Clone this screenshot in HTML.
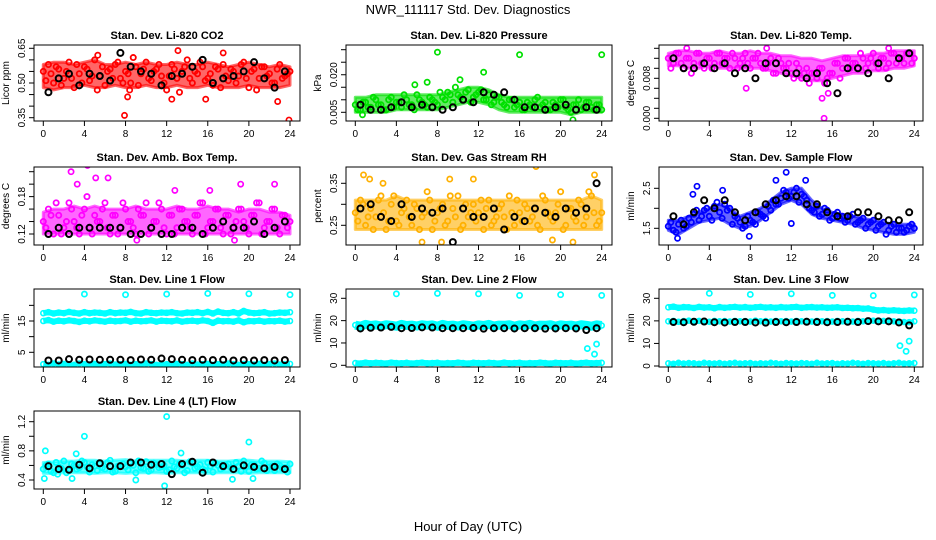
<!DOCTYPE html>
<html><head><meta charset="utf-8"><style>
html,body{margin:0;padding:0;background:#fff}
svg{display:block;font-family:"Liberation Sans",Arial,sans-serif}
</style></head><body>
<svg id="c" width="936" height="540" viewBox="0 0 936 540">
<text x="468" y="14" text-anchor="middle" font-size="13">NWR_111117  Std. Dev. Diagnostics</text>
<text x="468" y="531" text-anchor="middle" font-size="13">Hour of Day (UTC)</text>
</svg>
<script>
const HA=[0,0.5,1,1.5,2,2.5,3,3.5,4,4.5,5,5.5,6,6.5,7,7.5,8,8.5,9,9.5,10,10.5,11,11.5,12,12.5,13,13.5,14,14.5,15,15.5,16,16.5,17,17.5,18,18.5,19,19.5,20,20.5,21,21.5,22,22.5,23,23.5,24];
const HB=[0.25,0.75,1.25,1.75,2.25,2.75,3.25,3.75,4.25,4.75,5.25,5.75,6.25,6.75,7.25,7.75,8.25,8.75,9.25,9.75,10.25,10.75,11.25,11.75,12.25,12.75,13.25,13.75,14.25,14.75,15.25,15.75,16.25,16.75,17.25,17.75,18.25,18.75,19.25,19.75,20.25,20.75,21.25,21.75,22.25,22.75,23.25,23.75];
const HK=[0.5,1.5,2.5,3.5,4.5,5.5,6.5,7.5,8.5,9.5,10.5,11.5,12.5,13.5,14.5,15.5,16.5,17.5,18.5,19.5,20.5,21.5,22.5,23.5];
const HE=[0,1,2,3,4,5,6,7,8,9,10,11,12,13,14,15,16,17,18,19,20,21,22,23,24];
const XTICKS=[0,4,8,12,16,20,24];

const co2A=[0.55,0.58,0.50,0.56,0.52,0.59,0.48,0.54,0.57,0.51,0.60,0.53,0.49,0.56,0.58,0.52,0.55,0.50,0.57,0.54,0.59,0.51,0.56,0.53,0.47,0.58,0.52,0.55,0.60,0.50,0.54,0.57,0.52,0.49,0.56,0.58,0.51,0.55,0.53,0.59,0.48,0.56,0.52,0.57,0.54,0.50,0.58,0.53,0.55];
const co2B=[0.51,0.54,0.57,0.49,0.55,0.52,0.58,0.50,0.56,0.53,0.47,0.57,0.55,0.52,0.59,0.50,0.54,0.61,0.49,0.56,0.52,0.55,0.58,0.50,0.53,0.56,0.46,0.57,0.52,0.55,0.59,0.51,0.54,0.57,0.48,0.53,0.56,0.50,0.58,0.52,0.55,0.47,0.57,0.53,0.50,0.56,0.52,0.54];
const co2Hi=[0.58,0.59,0.59,0.58,0.59,0.60,0.58,0.58,0.59,0.58,0.59,0.58,0.58,0.59,0.58,0.58,0.59,0.58,0.57,0.58,0.59,0.58,0.57,0.58,0.57];
const co2Lo=[0.48,0.47,0.48,0.48,0.49,0.48,0.48,0.49,0.48,0.48,0.49,0.48,0.48,0.49,0.48,0.48,0.49,0.48,0.48,0.48,0.49,0.48,0.48,0.48,0.49];
const co2Out=[[7.9,0.36],[8.2,0.44],[13.1,0.64],[15.8,0.43],[17.5,0.63],[22.8,0.42],[23.9,0.34],[5.3,0.62],[12.5,0.43],[8.4,0.47]];
const co2K=[0.46,0.52,0.54,0.49,0.54,0.53,0.51,0.63,0.57,0.55,0.54,0.49,0.53,0.54,0.57,0.60,0.50,0.52,0.53,0.55,0.59,0.52,0.48,0.55];

const prA=[0.008,0.006,0.009,0.007,0.010,0.008,0.006,0.011,0.009,0.007,0.010,0.008,0.012,0.009,0.007,0.010,0.008,0.011,0.013,0.009,0.012,0.010,0.014,0.011,0.013,0.010,0.012,0.009,0.011,0.008,0.010,0.007,0.009,0.006,0.008,0.010,0.007,0.009,0.006,0.008,0.010,0.007,0.005,0.008,0.006,0.009,0.007,0.008,0.006];
const prB=[0.006,0.009,0.007,0.011,0.008,0.006,0.010,0.007,0.009,0.012,0.008,0.006,0.010,0.008,0.011,0.009,0.013,0.010,0.012,0.015,0.011,0.013,0.009,0.012,0.014,0.010,0.008,0.011,0.009,0.007,0.010,0.008,0.006,0.009,0.007,0.011,0.008,0.006,0.009,0.007,0.010,0.006,0.008,0.010,0.007,0.009,0.006,0.008];
const prHi=[0.011,0.011,0.012,0.012,0.012,0.012,0.012,0.012,0.012,0.013,0.014,0.015,0.015,0.014,0.012,0.011,0.011,0.011,0.011,0.011,0.011,0.011,0.011,0.011,0.011];
const prLo=[0.005,0.005,0.005,0.005,0.006,0.006,0.006,0.006,0.006,0.007,0.008,0.009,0.009,0.008,0.006,0.005,0.005,0.005,0.005,0.005,0.005,0.004,0.005,0.005,0.005];
const prOut=[[8,0.029],[16,0.028],[24,0.028],[10.2,0.018],[7,0.017],[12.5,0.021],[5.8,0.016],[21.2,0.002],[0.7,0.004]];
const prK=[0.008,0.006,0.006,0.007,0.009,0.007,0.008,0.007,0.006,0.007,0.010,0.009,0.013,0.012,0.013,0.010,0.007,0.007,0.006,0.007,0.008,0.006,0.007,0.006];

const tpA=[0.012,0.011,0.013,0.010,0.012,0.011,0.013,0.010,0.012,0.011,0.013,0.012,0.010,0.012,0.011,0.013,0.010,0.012,0.011,0.010,0.012,0.009,0.011,0.010,0.009,0.011,0.008,0.010,0.009,0.008,0.010,0.008,0.009,0.011,0.010,0.012,0.011,0.010,0.012,0.011,0.013,0.010,0.012,0.011,0.013,0.012,0.011,0.013,0.012];
const tpB=[0.010,0.013,0.011,0.012,0.009,0.013,0.011,0.012,0.010,0.013,0.011,0.012,0.013,0.010,0.012,0.011,0.012,0.013,0.010,0.011,0.009,0.012,0.010,0.011,0.008,0.010,0.009,0.007,0.009,0.010,0.007,0.009,0.011,0.008,0.012,0.010,0.011,0.013,0.010,0.012,0.011,0.012,0.010,0.013,0.011,0.012,0.013,0.011];
const tpHi=[0.0130,0.0135,0.0135,0.0130,0.0130,0.0135,0.0130,0.0130,0.0135,0.0130,0.0130,0.0125,0.0125,0.0120,0.0120,0.0115,0.0120,0.0125,0.0125,0.0125,0.0130,0.0130,0.0135,0.0135,0.0135];
const tpLo=[0.0105,0.0105,0.0100,0.0100,0.0105,0.0100,0.0100,0.0100,0.0100,0.0100,0.0095,0.0090,0.0085,0.0080,0.0075,0.0075,0.0080,0.0085,0.0090,0.0090,0.0095,0.0095,0.0100,0.0100,0.0105];
const tpOut=[[7.6,0.006],[15,0.004],[15.2,0.000],[15.6,0.005],[1.8,0.014],[9.6,0.014],[21.5,0.014]];
const tpK=[0.012,0.010,0.010,0.011,0.010,0.011,0.009,0.010,0.008,0.011,0.011,0.009,0.009,0.008,0.009,0.007,0.005,0.010,0.010,0.009,0.011,0.008,0.012,0.013];

const abA=[0.14,0.16,0.12,0.15,0.13,0.17,0.14,0.12,0.16,0.13,0.15,0.14,0.17,0.12,0.15,0.13,0.16,0.14,0.12,0.15,0.17,0.13,0.14,0.16,0.12,0.15,0.13,0.16,0.14,0.12,0.15,0.17,0.13,0.14,0.16,0.12,0.15,0.13,0.16,0.14,0.12,0.15,0.17,0.13,0.14,0.16,0.12,0.15,0.14];
const abB=[0.13,0.15,0.17,0.12,0.14,0.16,0.13,0.15,0.18,0.12,0.14,0.16,0.13,0.15,0.12,0.17,0.14,0.13,0.16,0.15,0.12,0.14,0.17,0.13,0.15,0.12,0.16,0.14,0.13,0.15,0.17,0.12,0.14,0.16,0.13,0.15,0.12,0.14,0.16,0.13,0.15,0.17,0.12,0.14,0.16,0.13,0.15,0.13];
const abHi=[0.155,0.16,0.16,0.165,0.16,0.165,0.16,0.16,0.16,0.165,0.16,0.16,0.16,0.165,0.16,0.16,0.165,0.16,0.16,0.155,0.16,0.16,0.155,0.155,0.15];
const abLo=[0.12,0.12,0.12,0.12,0.12,0.12,0.12,0.12,0.12,0.12,0.12,0.12,0.12,0.12,0.12,0.12,0.12,0.12,0.12,0.12,0.12,0.12,0.12,0.12,0.12];
const abOut=[[2.7,0.22],[4.3,0.23],[5.1,0.21],[6.3,0.21],[3.3,0.20],[22.5,0.20],[19.2,0.20],[16.2,0.19],[12.8,0.19],[9.1,0.11],[18.6,0.11]];
const abK=[0.12,0.13,0.12,0.13,0.13,0.13,0.13,0.13,0.12,0.12,0.13,0.12,0.12,0.13,0.13,0.12,0.13,0.14,0.13,0.13,0.14,0.12,0.13,0.14];

const rhA=[0.28,0.31,0.25,0.29,0.27,0.32,0.24,0.30,0.26,0.28,0.31,0.25,0.29,0.27,0.33,0.24,0.28,0.30,0.26,0.29,0.32,0.25,0.27,0.30,0.28,0.24,0.31,0.26,0.29,0.27,0.32,0.25,0.28,0.30,0.26,0.29,0.24,0.31,0.27,0.28,0.33,0.25,0.29,0.26,0.30,0.27,0.32,0.25,0.28];
const rhB=[0.26,0.30,0.27,0.24,0.31,0.28,0.26,0.32,0.25,0.29,0.27,0.30,0.24,0.28,0.31,0.26,0.29,0.25,0.32,0.27,0.24,0.30,0.28,0.26,0.31,0.29,0.25,0.27,0.30,0.24,0.28,0.31,0.26,0.29,0.27,0.25,0.32,0.28,0.26,0.30,0.24,0.29,0.27,0.31,0.25,0.33,0.28,0.26];
const rhHi=[0.31,0.31,0.31,0.31,0.32,0.31,0.31,0.31,0.31,0.31,0.31,0.31,0.31,0.31,0.31,0.31,0.31,0.31,0.31,0.31,0.31,0.31,0.31,0.32,0.31];
const rhLo=[0.24,0.24,0.24,0.24,0.24,0.24,0.24,0.24,0.24,0.24,0.24,0.24,0.24,0.24,0.24,0.24,0.24,0.24,0.24,0.24,0.24,0.24,0.24,0.24,0.24];
const rhOut=[[0.8,0.37],[1.4,0.36],[9.2,0.36],[11.5,0.36],[17.6,0.39],[23.3,0.37],[6.5,0.21],[8.4,0.21],[21.2,0.21],[19.2,0.215],[2.7,0.35]];
const rhK=[0.29,0.30,0.27,0.26,0.30,0.27,0.29,0.28,0.29,0.21,0.29,0.27,0.27,0.29,0.24,0.27,0.26,0.29,0.28,0.27,0.29,0.28,0.29,0.35];

const sfA=[1.55,1.45,1.60,1.50,1.75,1.85,1.70,1.95,1.80,2.05,1.90,2.10,2.00,1.80,1.65,1.55,1.70,1.60,1.85,1.75,1.95,2.10,2.25,2.40,2.30,2.50,2.35,2.20,1.95,2.05,1.85,1.95,1.75,1.90,1.80,1.70,1.85,1.65,1.75,1.60,1.70,1.55,1.65,1.45,1.60,1.50,1.40,1.55,1.50];
const sfB=[1.65,1.40,1.70,1.55,1.65,1.95,1.80,2.00,1.70,2.15,1.75,1.95,1.60,1.75,1.50,1.80,1.65,1.90,1.80,2.05,2.20,2.10,2.45,2.25,2.40,2.15,2.30,2.00,1.90,1.80,2.00,1.70,1.85,1.75,1.65,1.80,1.60,1.70,1.50,1.65,1.45,1.60,1.35,1.55,1.40,1.50,1.45,1.60];
const sfHi=[1.7,1.7,1.8,1.9,2.0,2.1,2.0,1.8,1.9,2.0,2.2,2.4,2.5,2.5,2.2,2.0,1.9,1.85,1.8,1.75,1.7,1.65,1.6,1.6,1.6];
const sfLo=[1.45,1.35,1.5,1.65,1.7,1.75,1.6,1.5,1.55,1.7,1.9,2.1,2.2,2.1,1.85,1.75,1.7,1.65,1.6,1.5,1.45,1.4,1.35,1.35,1.4];
const sfOut=[[2.8,2.55],[5.3,2.45],[11.5,2.9],[10.5,2.7],[13.4,2.7],[12.0,1.62],[0.9,1.25],[7.9,1.3],[2.4,2.35]];
const sfK=[1.8,1.6,1.9,2.2,2.0,2.2,1.9,1.7,1.9,2.1,2.2,2.3,2.3,2.1,2.1,1.9,1.8,1.8,1.9,1.9,1.8,1.7,1.7,1.9];

const l1Up=[17.5,17.8,17.4,17.7,17.5,17.9,17.6,17.4,17.8,17.5,17.7,17.6,17.4,17.8,17.5,17.7,17.6,17.9,17.5,17.4,17.8,17.6,17.5,17.7,17.6,17.8,17.5,17.4,17.7,17.6,17.8,17.5,17.9,17.4,18.0,17.6,17.5,17.8,17.4,18.2,17.7,17.5,17.6,17.8,17.4,17.5,17.7,17.6,17.8];
const l1Lo=[15.0,15.3,14.8,15.1,14.9,15.2,15.0,14.7,15.1,14.9,15.2,15.0,14.8,15.1,14.9,15.0,15.2,14.8,15.1,14.9,15.0,15.2,14.8,15.1,15.0,14.9,15.2,14.8,15.0,15.1,14.9,15.2,15.0,14.4,15.1,14.9,15.0,14.8,15.2,14.6,15.0,14.9,15.1,14.8,15.0,14.9,15.1,14.8,15.0];
const l1Bt=[1.2,1.0,1.4,1.1,1.3,1.2,1.0,1.4,1.2,1.1,1.3,1.0,1.2,1.4,1.1,1.2,1.3,1.0,1.2,1.1,1.4,1.2,1.0,1.3,1.2,1.1,1.3,1.2,1.0,1.4,1.1,1.2,1.3,1.0,1.2,1.1,1.4,1.2,1.0,1.3,1.2,1.1,1.3,1.0,1.2,1.4,1.1,1.2,1.3];
const l1Out=[[4,23.6],[8,23.4],[12,23.6],[16,23.8],[20,23.7],[24,23.4]];
const l1K=[2.4,2.4,2.8,2.6,2.7,2.6,2.6,2.6,2.5,2.7,2.6,3.0,2.8,2.6,2.5,2.6,2.5,2.6,2.4,2.5,2.4,2.5,2.4,2.5];

const l2Up=[18.0,17.5,18.3,17.8,18.1,17.6,18.2,17.9,17.5,18.3,17.8,18.0,17.6,18.2,17.9,18.1,17.5,18.3,17.8,18.0,17.6,18.2,17.9,17.5,18.1,17.8,18.3,17.6,18.0,17.9,18.2,17.5,18.1,17.8,18.3,17.6,18.0,17.9,18.2,17.5,18.1,17.8,18.0,17.6,18.2,17.9,17.5,18.1,17.8];
const l2Bt=[1.0,0.8,1.2,0.9,1.1,1.0,0.8,1.2,1.0,0.9,1.1,0.8,1.0,1.2,0.9,1.0,1.1,0.8,1.0,0.9,1.2,1.0,0.8,1.1,1.0,0.9,1.1,1.0,0.8,1.2,0.9,1.0,1.1,0.8,1.0,0.9,1.2,1.0,0.8,1.1,1.0,0.9,1.1,0.8,1.0,1.2,0.9,1.0,1.1];
const l2Out=[[4,32],[8,32.2],[12,32],[16,31.3],[20,31.6],[24,31.3],[22.6,7.5],[23.3,5],[23.5,9.5]];
const l2K=[16.5,16.8,16.9,17.2,16.6,16.7,17.0,16.9,16.6,16.6,16.6,16.7,16.4,16.6,16.6,16.5,16.6,16.6,16.4,16.5,16.6,16.5,15.8,16.6];

const l3Up=[26.0,26.3,25.8,26.1,26.0,25.7,26.2,25.9,26.0,25.6,26.1,25.8,26.0,26.2,25.9,26.1,25.8,26.0,26.2,25.9,26.0,25.8,26.1,25.9,26.0,26.2,25.8,26.0,26.1,25.9,26.0,25.8,25.9,26.0,25.7,25.8,25.6,25.7,25.4,25.5,25.0,24.6,24.8,24.5,24.7,24.5,24.4,24.6,24.5];
const l3Mid=[19.8,20.0,19.6,19.9,20.1,19.7,20.0,19.8,19.6,20.0,19.8,19.9,19.7,20.0,19.8,19.9,19.7,20.1,19.8,19.9,19.7,20.0,19.8,19.9,19.7,20.0,19.8,19.9,19.7,20.0,19.8,19.9,19.7,20.0,19.8,19.9,19.7,20.0,19.8,19.9,20.1,19.8,20.0,19.9,19.8,19.7,19.5,19.4,19.8];
const l3Bt=[1.2,1.0,1.4,1.1,1.3,1.2,1.0,1.4,1.2,1.1,1.3,1.0,1.2,1.4,1.1,1.2,1.3,1.0,1.2,1.1,1.4,1.2,1.0,1.3,1.2,1.1,1.3,1.2,1.0,1.4,1.1,1.2,1.3,1.0,1.2,1.1,1.4,1.2,1.0,1.3,1.2,1.1,1.3,1.0,1.2,1.4,1.1,1.2,1.3];
const l3Out=[[4,32.2],[8,31.7],[12,32],[16,31.3],[20,31.2],[24,31.5],[22.6,9],[23.2,6.5],[23.5,11]];
const l3K=[19.5,19.4,19.6,19.7,19.4,19.3,19.5,19.5,19.3,19.2,19.5,19.4,19.5,19.6,19.5,19.4,19.5,19.6,19.5,19.9,19.8,19.8,19.3,18.0];

const l4A=[0.55,0.62,0.50,0.58,0.66,0.53,0.60,0.57,0.64,0.51,0.59,0.62,0.55,0.67,0.52,0.60,0.58,0.63,0.50,0.57,0.65,0.54,0.61,0.58,0.52,0.66,0.56,0.60,0.53,0.63,0.58,0.55,0.64,0.51,0.60,0.57,0.62,0.54,0.59,0.66,0.52,0.61,0.56,0.63,0.58,0.53,0.60,0.57,0.62];
const l4B=[0.60,0.52,0.64,0.56,0.50,0.62,0.55,0.66,0.58,0.61,0.53,0.57,0.64,0.51,0.59,0.62,0.54,0.60,0.66,0.56,0.52,0.63,0.57,0.60,0.54,0.58,0.62,0.50,0.65,0.56,0.61,0.53,0.59,0.63,0.55,0.60,0.57,0.64,0.52,0.58,0.61,0.55,0.66,0.53,0.59,0.62,0.56,0.51,0.60];
const l4Hi=[0.64,0.65,0.66,0.66,0.67,0.67,0.66,0.67,0.68,0.66,0.67,0.67,0.67,0.67,0.66,0.67,0.67,0.66,0.66,0.67,0.67,0.66,0.66,0.66,0.65];
const l4Lo=[0.49,0.49,0.50,0.50,0.50,0.49,0.50,0.50,0.49,0.50,0.50,0.50,0.49,0.50,0.50,0.50,0.49,0.50,0.50,0.50,0.49,0.50,0.50,0.50,0.50];
const l4Out=[[0.1,0.42],[0.2,0.8],[4,1.0],[12,1.27],[11.8,0.32],[20,0.92],[2.8,0.42],[9,0.4],[18.4,0.41],[20.4,0.42],[1.4,0.48],[3.2,0.76],[13.4,0.77]];
const l4K=[0.59,0.55,0.54,0.61,0.56,0.63,0.59,0.59,0.64,0.64,0.61,0.62,0.48,0.62,0.65,0.50,0.64,0.59,0.55,0.60,0.58,0.56,0.58,0.55];

const NS='http://www.w3.org/2000/svg';
const svg=document.getElementById('c');
function mk(tag,attrs,parent){const e=document.createElementNS(NS,tag);for(const k in attrs)e.setAttribute(k,attrs[k]);(parent||svg).appendChild(e);return e;}

function panel(p){
  const g=mk('g',{});
  
  
  const sx=h=>p.x0+(p.x24-p.x0)*h/24;
  const sy=v=>p.p1+(p.p2-p.p1)*(v-p.v1)/(p.v2-p.v1);
  const t=mk('text',{x:(p.l+p.r)/2,y:p.t-6,'text-anchor':'middle','font-size':11,'font-weight':'bold'},g);
  t.textContent=p.title;
  
  
  const clipId='cl'+p.id;
  const cp=mk('clipPath',{id:clipId},g);mk('rect',{x:p.l,y:p.t,width:p.r-p.l,height:p.b-p.t},cp);
  const pts=mk('g',{'clip-path':'url(#'+clipId+')'},g);
  
  
  if(p.hi){
    let d='';
    p.hi.forEach((v,i)=>{d+=(i?'L':'M')+sx(HE[i]).toFixed(1)+' '+sy(v).toFixed(1);});
    for(let i=p.lo.length-1;i>=0;i--)d+='L'+sx(HE[i]).toFixed(1)+' '+sy(p.lo[i]).toFixed(1);
    d+='Z';
    const cl=mk('path',{d:d,fill:p.col,'fill-opacity':0.6,stroke:p.col,'stroke-opacity':0.6,'stroke-width':3,'stroke-linejoin':'round'},pts);
    
    
  }
  const dot=(x,y,col,r,sw)=>{const c=mk('circle',{cx:x,cy:y,r:r,fill:'none',stroke:col,'stroke-width':sw},pts);
    
    };
  (p.bands||[]).forEach(bd=>{
    const d=bd.v.map((v,i)=>(i?'L':'M')+sx(bd.h[i]).toFixed(1)+' '+sy(v).toFixed(1)).join('');
    const pl=mk('path',{d:d,fill:'none',stroke:p.col,'stroke-width':bd.w||5,'stroke-linejoin':'round'},pts);
    
    
    bd.v.forEach((v,i)=>dot(sx(bd.h[i]),sy(v),p.col,2.5,1.6));
  });
  (p.series||[]).forEach(s=>s.v.forEach((v,i)=>dot(sx(s.h[i]),sy(v),p.col,2.6,1.8)));
  (p.out||[]).forEach(o=>dot(sx(o[0]),sy(o[1]),p.col,2.6,1.7));
  p.k.forEach((v,i)=>dot(sx(HK[i]),sy(v),'#000',3,2));
  const box=mk('rect',{x:p.l,y:p.t,width:p.r-p.l,height:p.b-p.t,fill:'none',stroke:'#000','stroke-width':1},g);
  
  
  XTICKS.forEach(h=>{const x=sx(h);mk('line',{x1:x,x2:x,y1:p.b,y2:p.b+5,stroke:'#000'},g);
    const tx=mk('text',{x:x,y:p.b+16,'text-anchor':'middle','font-size':10},g);tx.textContent=h;
    
    });
  mk('line',{x1:sx(0),x2:sx(24),y1:p.b,y2:p.b,stroke:'#000'},g);
  p.yt.forEach(v=>{const y=sy(v);mk('line',{x1:p.l,x2:p.l-5,y1:y,y2:y,stroke:'#000'},g);});
  mk('line',{x1:p.l,x2:p.l,y1:sy(p.yt[0]),y2:sy(p.yt[p.yt.length-1]),stroke:'#000'},g);
  p.yl.forEach(v=>{const y=sy(v);const lx=p.l-9;
    const tx=mk('text',{x:lx,y:y,'text-anchor':'middle','font-size':10,transform:'rotate(-90 '+lx+' '+y+')'},g);
    tx.textContent=p.fmt(v);
    
    });
  const ax=p.l-25,ay=(p.t+p.b)/2;
  const yt=mk('text',{x:ax,y:ay,'text-anchor':'middle','font-size':10,transform:'rotate(-90 '+ax+' '+ay+')'},g);
  yt.textContent=p.ylab;
  
  
}
const f2=v=>v.toFixed(2),f3=v=>v.toFixed(3),f1=v=>v.toFixed(1),f0=v=>v.toFixed(0);
const C1={l:34,r:300,x0:43.3,x24:290},C2={l:346,r:612,x0:355.3,x24:601.7},C3={l:659,r:923,x0:668.3,x24:914.3};
const R1={t:45,b:121},R2={t:167,b:245},R3={t:289,b:367},R4={t:411,b:489};
function P(c,r,o){return Object.assign({},c,r,o);}
panel(P(C1,R1,{id:1,name:'panel-co2',title:'Stan. Dev. Li-820 CO2',ylab:'Licor ppm',col:'#ff0000',v1:0.35,p1:117.7,v2:0.65,p2:48.3,yt:[0.35,0.40,0.45,0.50,0.55,0.60,0.65],yl:[0.35,0.50,0.65],fmt:f2,hi:co2Hi,lo:co2Lo,series:[{h:HA,v:co2A},{h:HB,v:co2B}],out:co2Out,k:co2K}));
panel(P(C2,R1,{id:2,name:'panel-pressure',title:'Stan. Dev. Li-820 Pressure',ylab:'kPa',col:'#00e000',v1:0.005,p1:112.3,v2:0.030,p2:49.7,yt:[0.005,0.010,0.015,0.020,0.025,0.030],yl:[0.005,0.020],fmt:f3,hi:prHi,lo:prLo,series:[{h:HA,v:prA},{h:HB,v:prB}],out:prOut,k:prK}));
panel(P(C3,R1,{id:3,name:'panel-temp',title:'Stan. Dev. Li-820 Temp.',ylab:'degrees C',col:'#ff00ff',v1:0,p1:118.3,v2:0.014,p2:48.3,yt:[0,0.002,0.004,0.006,0.008,0.010,0.012,0.014],yl:[0,0.008],fmt:f3,hi:tpHi,lo:tpLo,series:[{h:HA,v:tpA},{h:HB,v:tpB}],out:tpOut,k:tpK}));
panel(P(C1,R2,{id:4,name:'panel-amb-box-temp',title:'Stan. Dev. Amb. Box Temp.',ylab:'degrees C',col:'#ff00ff',v1:0.12,p1:234,v2:0.22,p2:171.7,yt:[0.12,0.14,0.16,0.18,0.20,0.22],yl:[0.12,0.18],fmt:f2,hi:abHi,lo:abLo,series:[{h:HA,v:abA},{h:HB,v:abB}],out:abOut,k:abK}));
panel(P(C2,R2,{id:5,name:'panel-rh',title:'Stan. Dev. Gas Stream RH',ylab:'percent',col:'#ffb000',v1:0.25,p1:225.3,v2:0.35,p2:183.3,yt:[0.25,0.30,0.35],yl:[0.25,0.35],fmt:f2,hi:rhHi,lo:rhLo,series:[{h:HA,v:rhA},{h:HB,v:rhB}],out:rhOut,k:rhK}));
panel(P(C3,R2,{id:6,name:'panel-sample-flow',title:'Stan. Dev. Sample Flow',ylab:'ml/min',col:'#0000ff',v1:1.5,p1:228.3,v2:2.5,p2:188.3,yt:[1.5,2.0,2.5],yl:[1.5,2.5],fmt:f1,hi:sfHi,lo:sfLo,series:[{h:HA,v:sfA},{h:HB,v:sfB}],out:sfOut,k:sfK}));
panel(P(C1,R3,{id:7,name:'panel-line1-flow',title:'Stan. Dev. Line 1 Flow',ylab:'ml/min',col:'#00ffff',v1:5,p1:352.3,v2:15,p2:321,yt:[5,10,15,20],yl:[5,15],fmt:f0,bands:[{h:HA,v:l1Up,w:6},{h:HA,v:l1Lo,w:6},{h:HA,v:l1Bt,w:4}],out:l1Out,k:l1K}));
panel(P(C2,R3,{id:8,name:'panel-line2-flow',title:'Stan. Dev. Line 2 Flow',ylab:'ml/min',col:'#00ffff',v1:0,p1:365.3,v2:30,p2:298.3,yt:[0,10,20,30],yl:[0,10,20,30],fmt:f0,bands:[{h:HA,v:l2Up,w:9},{h:HA,v:l2Bt,w:6}],out:l2Out,k:l2K}));
panel(P(C3,R3,{id:9,name:'panel-line3-flow',title:'Stan. Dev. Line 3 Flow',ylab:'ml/min',col:'#00ffff',v1:0,p1:366,v2:30,p2:298.3,yt:[0,10,20,30],yl:[0,10,20,30],fmt:f0,bands:[{h:HA,v:l3Up,w:6},{h:HA,v:l3Mid,w:4},{h:HA,v:l3Bt,w:4}],out:l3Out,k:l3K}));
panel(P(C1,R4,{id:10,name:'panel-line4-flow',title:'Stan. Dev. Line 4 (LT) Flow',ylab:'ml/min',col:'#00ffff',v1:0.4,p1:480,v2:1.2,p2:421.7,yt:[0.4,0.6,0.8,1.0,1.2],yl:[0.4,0.8,1.2],fmt:f1,hi:l4Hi,lo:l4Lo,series:[{h:HA,v:l4A},{h:HB,v:l4B}],out:l4Out,k:l4K}));
</script>
</body></html>
